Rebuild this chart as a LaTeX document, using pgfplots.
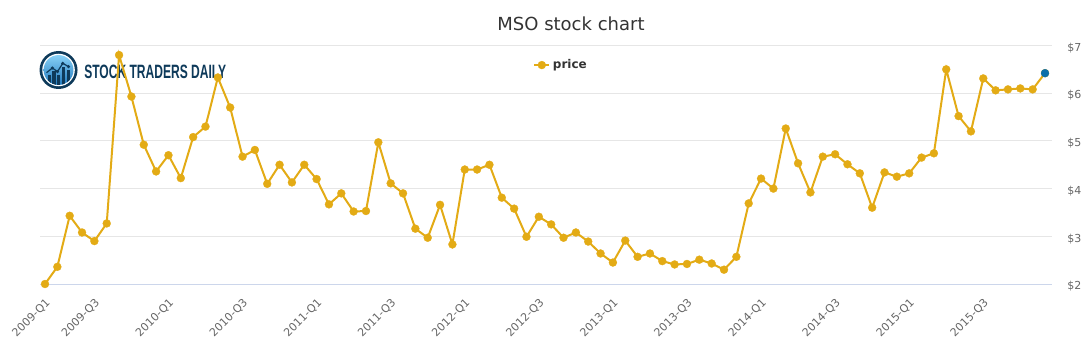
\documentclass[border=0pt]{standalone}
\usepackage{pgfplots}
\pgfplotsset{compat=1.18}
\usepackage{pgfplotstable}
\usepackage{fontspec}
\setmainfont{DejaVu Sans}
\newfontfamily\logofont{Liberation Sans}
\definecolor{gold}{RGB}{227,171,21}
\definecolor{blueend}{RGB}{12,111,170}
\definecolor{gridc}{RGB}{230,230,230}
\definecolor{axisc}{RGB}{204,214,235}
\definecolor{tickc}{RGB}{102,102,102}
\definecolor{titlec}{RGB}{51,51,51}
\definecolor{navy}{RGB}{14,58,90}
\definecolor{skytop}{RGB}{140,212,248}
\definecolor{skybot}{RGB}{30,120,190}
\pgfplotstableread{
idx price
0 2.00
1 2.36
2 3.43
3 3.08
4 2.90
5 3.27
6 6.80
7 5.93
8 4.92
9 4.36
10 4.70
11 4.22
12 5.08
13 5.30
14 6.33
15 5.70
16 4.67
17 4.81
18 4.10
19 4.50
20 4.13
21 4.50
22 4.20
23 3.67
24 3.90
25 3.52
26 3.53
27 4.97
28 4.11
29 3.90
30 3.16
31 2.97
32 3.66
33 2.83
34 4.40
35 4.40
36 4.50
37 3.81
38 3.58
39 2.99
40 3.41
41 3.25
42 2.97
43 3.08
44 2.89
45 2.64
46 2.45
47 2.91
48 2.57
49 2.64
50 2.48
51 2.41
52 2.42
53 2.51
54 2.43
55 2.30
56 2.57
57 3.69
58 4.21
59 4.00
60 5.26
61 4.53
62 3.92
63 4.67
64 4.72
65 4.51
66 4.32
67 3.60
68 4.34
69 4.25
70 4.32
71 4.65
72 4.74
73 6.50
74 5.52
75 5.20
76 6.31
77 6.06
78 6.08
79 6.10
80 6.08
81 6.42
}\pricetable
\pgfplotstableread{
idx price
81 6.42
}\lasttable
\begin{document}
\begin{tikzpicture}
\useasboundingbox (0,0) rectangle (818.25pt,262.5pt);
% title
\node[anchor=base, inner sep=0pt, text=titlec, font=\fontsize{13.5pt}{16pt}\selectfont] at (428.25pt,239.5pt) {MSO stock chart};
% logo
\begin{scope}[shift={(43.9pt,210pt)}]
  \fill[navy] (0,0) circle (14.25pt);
  \fill[white] (0,0) circle (12.2pt);
  \begin{scope}
    \clip (0,0) circle (11.2pt);
    \shade[top color=skytop, bottom color=skybot] (-12pt,-12pt) rectangle (12pt,12pt);
    \fill[navy] (-8.2pt,-12pt) rectangle (-5.8pt,-4pt);
    \fill[navy] (-4.6pt,-12pt) rectangle (-2.2pt,-1pt);
    \fill[navy] (-1pt,-12pt) rectangle (1.4pt,-3.5pt);
    \fill[navy] (2.6pt,-12pt) rectangle (5pt,2pt);
    \fill[navy] (6.2pt,-12pt) rectangle (8.6pt,0pt);
    \draw[navy, line width=0.9pt] (-9pt,-2pt) -- (-4.6pt,1.5pt) -- (-0.8pt,-1.2pt) -- (3.2pt,5pt) -- (7.5pt,2.5pt);
    \foreach \p in {(-4.6pt,1.5pt),(-0.8pt,-1.2pt),(3.2pt,5pt),(7.5pt,2.5pt)}
      \fill[navy] \p circle (1.3pt);
  \end{scope}
\end{scope}
\node[anchor=base west, inner sep=0pt, text=navy] at (63pt,203.8pt) {\resizebox{106.5pt}{10.1pt}{\logofont\bfseries STOCK TRADERS DAILY}};
\begin{axis}[
  at={(30pt,49.5pt)}, anchor=south west,
  scale only axis, width=759pt, height=178.875pt,
  xmin=-0.405, xmax=81.567, ymin=2, ymax=7,
  axis x line*=bottom, axis y line*=right,
  x axis line style={draw=axisc, line width=0.75pt, -},
  y axis line style={draw=none, -},
  ymajorgrids, major grid style={draw=gridc, line width=0.75pt},
  ytick={2,3,4,5,6,7},
  yticklabels={\$2,\$3,\$4,\$5,\$6,\$7},
  xtick={0,4,10,16,22,28,34,40,46,52,58,64,70,76},
  xticklabels={2009-Q1,2009-Q3,2010-Q1,2010-Q3,2011-Q1,2011-Q3,2012-Q1,2012-Q3,2013-Q1,2013-Q3,2014-Q1,2014-Q3,2015-Q1,2015-Q3},
  major tick length=0pt,
  tick label style={font=\fontsize{8.25pt}{10pt}\selectfont, text=tickc},
  xticklabel style={xshift=2.6pt, yshift=-12.6pt, rotate=45, anchor=east, inner sep=0pt},
  yticklabel style={anchor=west, inner sep=0pt, xshift=11.25pt, yshift=-1.8pt},
  /pgf/number format/assume math mode=true,
  clip=false,
  legend style={at={(0.4872,0.918)}, anchor=west, draw=none, fill=none, inner sep=0pt,
    font=\bfseries\fontsize{9pt}{11pt}\selectfont, text=titlec},
  legend cell align=left,
  legend image code/.code={\draw[#1, mark=none] (0pt,0pt) -- (11.25pt,0pt); \draw[#1, only marks] plot coordinates {(5.625pt,0pt)};},
]
\addplot[color=gold, line width=1.5pt, mark=*, mark size=3pt, mark options={solid, fill=gold, draw=gold, line width=0.2pt}] table[x=idx, y=price] {\pricetable};
\addlegendentry{price}
\addplot[forget plot, only marks, mark=*, mark size=3pt, mark options={solid, fill=blueend, draw=blueend, line width=0.2pt}] table[x=idx, y=price] {\lasttable};
\end{axis}
\end{tikzpicture}
\end{document}
